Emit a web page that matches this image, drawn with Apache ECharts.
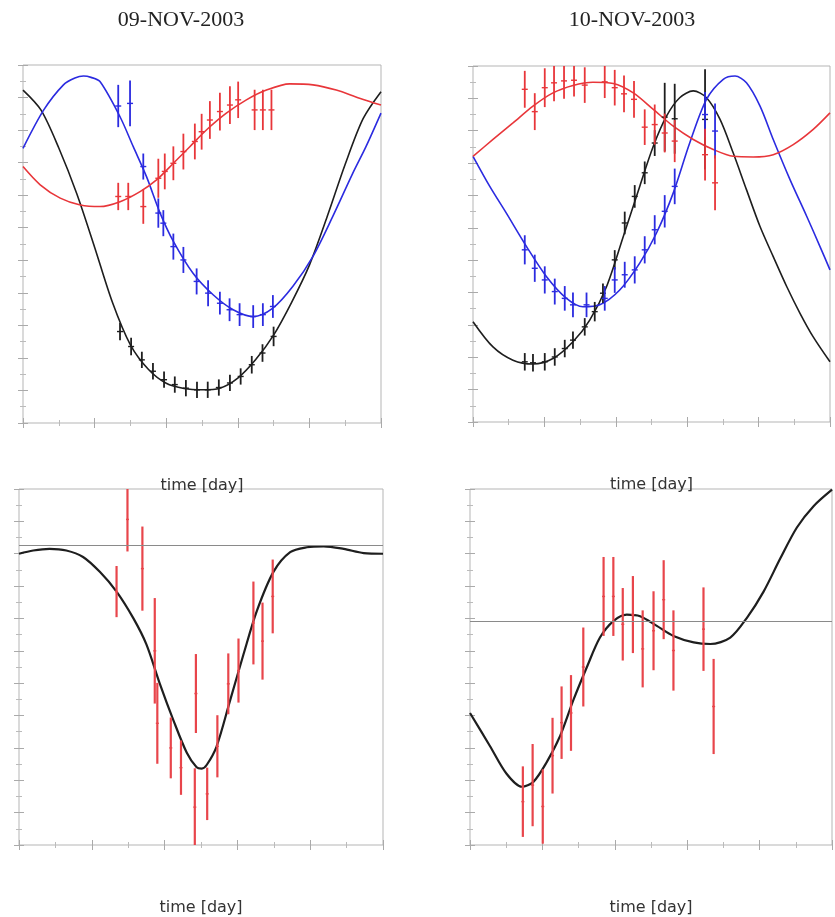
<!DOCTYPE html>
<html>
<head>
<meta charset="utf-8">
<script src="https://cdn.jsdelivr.net/npm/echarts@6/dist/echarts.min.js"></script>
<style>
html,body{margin:0;padding:0;background:#fff;}
#c{width:835px;height:917px;}
</style>
</head>
<body>
<div id="c"></div>
<script>
// ---- Panel titles and axis names ----
const panelTitles = ['09-NOV-2003', '10-NOV-2003'];
const xAxisName = 'time [day]';

// ---- 09-NOV-2003 (top-left): fitted curves [time, value] ----
const tlBlackCurve = [[0,10.23],[0.05,9.62],[0.1,8.45],[0.15,7.05],[0.2,5.4],[0.25,3.7],[0.3,2.4],[0.35,1.65],[0.4,1.22],[0.45,1.06],[0.5,1.02],[0.55,1.07],[0.6,1.38],[0.65,1.95],[0.7,2.7],[0.75,3.7],[0.8,4.85],[0.85,6.35],[0.9,7.95],[0.95,9.35],[1,10.18]];
const tlBlueCurve = [[0,8.44],[0.058,9.62],[0.113,10.39],[0.145,10.6],[0.169,10.66],[0.19,10.62],[0.215,10.49],[0.271,9.41],[0.308,8.49],[0.345,7.57],[0.383,6.45],[0.42,5.58],[0.475,4.6],[0.531,3.94],[0.587,3.48],[0.643,3.27],[0.698,3.53],[0.754,4.2],[0.81,5.12],[0.865,6.34],[0.921,7.67],[0.958,8.49],[1,9.52]];
const tlRedCurve = [[0,7.88],[0.048,7.32],[0.104,6.91],[0.16,6.7],[0.215,6.65],[0.271,6.8],[0.327,7.11],[0.373,7.47],[0.42,7.98],[0.466,8.49],[0.513,9.01],[0.568,9.52],[0.624,9.93],[0.68,10.23],[0.745,10.42],[0.81,10.39],[0.875,10.23],[0.94,9.98],[1,9.77]];
// measurements [time, value, error]
const tlBlackPts = [[0.271,2.81,0.27],[0.302,2.35,0.27],[0.332,1.94,0.25],[0.363,1.59,0.25],[0.394,1.33,0.25],[0.424,1.18,0.25],[0.455,1.07,0.25],[0.486,1.02,0.25],[0.516,1.02,0.25],[0.547,1.09,0.25],[0.578,1.23,0.25],[0.608,1.43,0.25],[0.639,1.79,0.27],[0.669,2.15,0.27],[0.7,2.66,0.3]];
const tlBluePts = [[0.266,9.74,0.65],[0.299,9.82,0.7],[0.336,7.88,0.4],[0.378,6.45,0.45],[0.392,6.14,0.4],[0.42,5.42,0.4],[0.448,5.01,0.4],[0.485,4.35,0.4],[0.517,3.99,0.4],[0.55,3.68,0.35],[0.577,3.48,0.35],[0.605,3.33,0.35],[0.643,3.27,0.35],[0.67,3.33,0.35],[0.698,3.58,0.35]];
const tlRedPts = [[0.266,6.96,0.42],[0.294,6.96,0.42],[0.336,6.65,0.53],[0.378,7.52,0.6],[0.396,7.73,0.55],[0.42,7.98,0.52],[0.448,8.34,0.55],[0.48,8.65,0.55],[0.499,8.95,0.55],[0.522,9.31,0.58],[0.55,9.57,0.58],[0.578,9.77,0.58],[0.601,9.93,0.56],[0.647,9.62,0.62],[0.67,9.62,0.62],[0.694,9.62,0.62]];

// ---- 10-NOV-2003 (top-right) ----
const trBlackCurve = [[0,3.1],[0.056,2.32],[0.112,1.91],[0.168,1.79],[0.224,1.96],[0.28,2.48],[0.327,3.15],[0.374,4.18],[0.421,5.73],[0.467,7.28],[0.505,8.52],[0.542,9.45],[0.579,10.02],[0.617,10.23],[0.654,10.02],[0.692,9.35],[0.729,8.31],[0.766,7.18],[0.804,6.04],[0.841,5.11],[0.879,4.18],[0.916,3.36],[0.953,2.63],[1,1.86]];
const trBlueCurve = [[0,8.21],[0.047,7.28],[0.093,6.46],[0.15,5.42],[0.206,4.49],[0.262,3.82],[0.308,3.56],[0.355,3.62],[0.411,4.08],[0.467,4.91],[0.514,5.84],[0.561,7.08],[0.607,8.62],[0.654,9.97],[0.701,10.59],[0.734,10.69],[0.766,10.48],[0.804,9.76],[0.841,8.73],[0.888,7.49],[0.935,6.35],[0.972,5.42],[1,4.7]];
const trRedCurve = [[0,8.21],[0.056,8.73],[0.112,9.24],[0.168,9.76],[0.224,10.17],[0.28,10.4],[0.336,10.5],[0.393,10.46],[0.449,10.17],[0.505,9.66],[0.561,9.14],[0.617,8.73],[0.673,8.42],[0.729,8.21],[0.785,8.19],[0.841,8.26],[0.897,8.57],[0.953,9.04],[1,9.55]];
const trBlackPts = [[0.145,1.86,0.27],[0.168,1.83,0.27],[0.201,1.86,0.27],[0.229,2.01,0.27],[0.257,2.27,0.27],[0.28,2.53,0.27],[0.313,2.94,0.27],[0.341,3.41,0.3],[0.364,3.98,0.3],[0.397,5.01,0.3],[0.425,6.15,0.35],[0.453,6.97,0.35],[0.481,7.7,0.35],[0.509,8.62,0.4],[0.537,9.42,1.06],[0.565,9.37,1.08],[0.65,9.35,1.55]];
const trBluePts = [[0.145,5.32,0.45],[0.173,4.75,0.42],[0.201,4.39,0.42],[0.229,4.03,0.4],[0.257,3.82,0.38],[0.28,3.62,0.38],[0.318,3.62,0.38],[0.369,3.82,0.38],[0.397,4.39,0.4],[0.425,4.55,0.4],[0.453,4.7,0.42],[0.481,5.32,0.42],[0.509,5.94,0.45],[0.537,6.51,0.5],[0.565,7.28,0.55],[0.65,9.5,0.7],[0.678,8.99,0.85]];
const trRedPts = [[0.145,10.28,0.57],[0.173,9.59,0.57],[0.201,10.33,0.6],[0.227,10.48,0.57],[0.255,10.54,0.55],[0.283,10.56,0.5],[0.313,10.41,0.55],[0.369,10.51,0.5],[0.397,10.33,0.55],[0.423,10.14,0.57],[0.451,9.97,0.57],[0.481,9.11,0.55],[0.509,9.19,0.62],[0.537,8.93,0.6],[0.565,8.68,0.65],[0.65,8.26,0.8],[0.678,7.39,0.85]];

// ---- 09-NOV-2003 residual panel (bottom-left) ----
const blReference = 9.25;
const blCurve = [[0,9.0],[0.039,9.1],[0.084,9.15],[0.13,9.1],[0.176,8.9],[0.222,8.44],[0.268,7.83],[0.314,7.01],[0.35,6.2],[0.387,4.98],[0.424,3.86],[0.461,2.85],[0.488,2.4],[0.502,2.36],[0.516,2.48],[0.543,3.05],[0.58,4.47],[0.617,5.9],[0.653,7.22],[0.699,8.44],[0.745,9.05],[0.791,9.2],[0.837,9.23],[0.892,9.15],[0.947,9.02],[1,9.0]];
const blPts = [[0.268,7.83,0.79],[0.298,10.06,0.99],[0.339,8.54,1.3],[0.373,6.0,1.63],[0.38,3.76,1.25],[0.417,3.0,0.94],[0.445,2.39,0.84],[0.483,1.17,1.2],[0.486,4.68,1.22],[0.517,1.58,0.81],[0.545,3.05,0.96],[0.575,4.98,0.94],[0.603,5.39,0.99],[0.644,6.86,1.28],[0.669,6.3,1.19],[0.697,7.68,1.14]];

// ---- 10-NOV-2003 residual panel (bottom-right) ----
const brReference = 6.9;
const brCurve = [[0,4.08],[0.055,3.06],[0.101,2.2],[0.143,1.8],[0.175,1.95],[0.212,2.56],[0.249,3.37],[0.286,4.49],[0.323,5.5],[0.359,6.41],[0.396,6.92],[0.433,7.12],[0.47,7.07],[0.516,6.77],[0.562,6.46],[0.618,6.26],[0.664,6.21],[0.719,6.41],[0.765,7.02],[0.811,7.83],[0.857,8.85],[0.903,9.81],[0.949,10.47],[1,10.98]];
const brPts = [[0.146,1.34,1.09],[0.173,1.85,1.27],[0.201,1.19,1.15],[0.228,2.76,1.17],[0.253,3.78,1.12],[0.279,4.08,1.17],[0.313,5.5,1.22],[0.369,7.68,1.22],[0.396,7.68,1.22],[0.422,6.82,1.12],[0.45,7.12,1.19],[0.477,6.06,1.19],[0.507,6.62,1.22],[0.535,7.58,1.22],[0.562,6.01,1.24],[0.645,6.67,1.29],[0.673,4.28,1.47]];

// ---- styling ----
const BLACK = '#1e1e1e', BLUE = '#2b2be0', RED = '#e8363a', RED2 = '#e8454b';
const grids = [
  {left: 23, top: 65, width: 358, height: 358},
  {left: 473, top: 66, width: 357, height: 356},
  {left: 19, top: 489, width: 364, height: 362},
  {left: 470, top: 489, width: 362, height: 362}
];
const xAxes = [], yAxes = [];
grids.forEach((g, i) => {
  ['bottom', 'top'].forEach(pos => {
    xAxes.push({
      type: 'value', gridIndex: i, position: pos, min: 0, max: 1, interval: 0.2,
      axisLine: {show: false},
      axisTick: {show: true, inside: true, length: 5, lineStyle: {color: '#aaa'}},
      minorTick: {show: true, splitNumber: 2, length: 3, lineStyle: {color: '#bbb'}},
      axisLabel: {show: false}, splitLine: {show: false},
      name: pos === 'bottom' ? xAxisName : '', nameLocation: 'middle', nameGap: 55,
      nameTextStyle: {fontFamily: 'DejaVu Sans', fontSize: 16, color: '#333'}
    });
  });
  ['left', 'right'].forEach(pos => {
    yAxes.push({
      type: 'value', gridIndex: i, position: pos, min: 0, max: 11, interval: 1,
      axisLine: {show: false},
      axisTick: {show: true, inside: true, length: 5, lineStyle: {color: '#aaa'}},
      minorTick: {show: true, splitNumber: 2, length: 3, lineStyle: {color: '#bbb'}},
      axisLabel: {show: false}, splitLine: {show: false}
    });
  });
});

function curve(data, gi, color, width, refLine) {
  const s = {
    type: 'line', xAxisIndex: gi * 2, yAxisIndex: gi * 2, data: data,
    smooth: 0.3, showSymbol: false, symbol: 'none', silent: true, z: 3,
    lineStyle: {color: color, width: width}
  };
  if (refLine !== undefined) {
    s.markLine = {silent: true, symbol: 'none', label: {show: false},
      lineStyle: {color: '#8a8a8a', width: 1, type: 'solid'},
      data: [{yAxis: refLine}]};
  }
  return s;
}
function errbars(data, gi, color, tick, lw) {
  return {
    type: 'custom', xAxisIndex: gi * 2, yAxisIndex: gi * 2, data: data, clip: true, z: 4,
    encode: {x: 0, y: 1},
    renderItem: function (params, api) {
      const x = api.value(0), y = api.value(1), e = api.value(2);
      const hi = api.coord([x, y + e]), lo = api.coord([x, y - e]), c = api.coord([x, y]);
      return {type: 'group', children: [
        {type: 'line', shape: {x1: hi[0], y1: hi[1], x2: lo[0], y2: lo[1]}, style: {stroke: color, lineWidth: lw}},
        {type: 'line', shape: {x1: c[0] - tick, y1: c[1], x2: c[0] + tick, y2: c[1]}, style: {stroke: color, lineWidth: 1.4}}
      ]};
    }
  };
}

const option = {
  animation: false,
  backgroundColor: '#fff',
  grid: grids.map(g => Object.assign({show: true, borderColor: '#b5b5b5', borderWidth: 1, backgroundColor: 'transparent'}, g)),
  xAxis: xAxes,
  yAxis: yAxes,
  graphic: [
    {type: 'text', x: 181, y: 20, style: {text: panelTitles[0], textAlign: 'center', textVerticalAlign: 'middle', font: '22px "Liberation Serif"', fill: '#222'}},
    {type: 'text', x: 632, y: 20, style: {text: panelTitles[1], textAlign: 'center', textVerticalAlign: 'middle', font: '22px "Liberation Serif"', fill: '#222'}}
  ],
  series: [
    curve(tlBlackCurve, 0, BLACK, 1.6),
    curve(tlBlueCurve, 0, BLUE, 1.6),
    curve(tlRedCurve, 0, RED, 1.6),
    errbars(tlBlackPts, 0, BLACK, 3, 1.8),
    errbars(tlBluePts, 0, BLUE, 3, 1.8),
    errbars(tlRedPts, 0, RED, 3, 1.8),
    curve(trBlackCurve, 1, BLACK, 1.6),
    curve(trBlueCurve, 1, BLUE, 1.6),
    curve(trRedCurve, 1, RED, 1.6),
    errbars(trBlackPts, 1, BLACK, 3, 1.8),
    errbars(trBluePts, 1, BLUE, 3, 1.8),
    errbars(trRedPts, 1, RED, 3, 1.8),
    curve(blCurve, 2, BLACK, 2.2, blReference),
    errbars(blPts, 2, RED2, 1.5, 2.2),
    curve(brCurve, 3, BLACK, 2.2, brReference),
    errbars(brPts, 3, RED2, 1.5, 2.2)
  ]
};
const chart = echarts.init(document.getElementById('c'), null, {renderer: 'canvas'});
chart.setOption(option);
</script>
</body>
</html>
